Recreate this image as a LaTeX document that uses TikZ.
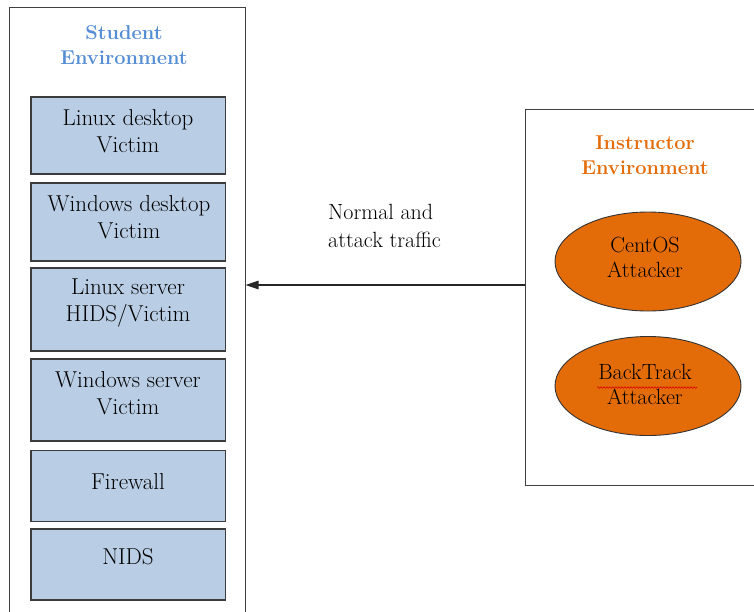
\documentclass[tikz,border=0pt]{standalone}
\usetikzlibrary{arrows.meta,shapes.geometric,decorations.pathmorphing}

\definecolor{boxfill}{HTML}{B9CDE5}
\definecolor{boxline}{HTML}{3C3C3C}
\definecolor{studentblue}{HTML}{558ED5}
\definecolor{instrorange}{HTML}{E46C0A}
\definecolor{attackfill}{HTML}{E36C09}

\begin{document}
\begin{tikzpicture}[x=1pt,y=-1pt,
  envbox/.style={draw=black!75,line width=1pt,fill=white,inner sep=0pt},
  hostbox/.style={draw=boxline,line width=1.2pt,fill=boxfill,inner sep=0pt,
    minimum width=194.5pt},
  hostlabel/.style={font=\fontsize{23}{27}\selectfont,align=center,text=black},
  envtitle/.style={font=\fontsize{20}{25}\selectfont\bfseries,align=center},
  attacker/.style={ellipse,draw=black!80,line width=0.9pt,fill=attackfill,
    minimum width=186pt,minimum height=99pt,inner sep=0pt},
  attackerlabel/.style={font=\fontsize{22}{25}\selectfont,align=center,text=black},
  traffic/.style={-{Triangle[length=13pt,width=8.5pt]},line width=1.2pt,draw=black!85}]

\useasboundingbox (0,0) rectangle (754,611);

% environment frames
\node[envbox,minimum width=235.5pt,minimum height=618pt] (student) at (127.25,316) {};
\node[envbox,minimum width=235pt,minimum height=376pt] (instr) at (643,297) {};

% environment titles
\node[envtitle,text=studentblue] (stitle) at (124,45) {Student\\Environment};
\node[envtitle,text=instrorange] (ititle) at (645,155) {Instructor\\Environment};

% student hosts
\node[hostbox,minimum height=77pt] (b1) at (128.25,135.5) {};
\node[hostbox,minimum height=78pt] (b2) at (128.25,222) {};
\node[hostbox,minimum height=83pt] (b3) at (128.25,309.5) {};
\node[hostbox,minimum height=82pt] (b4) at (128.25,400) {};
\node[hostbox,minimum height=71.5pt] (b5) at (128.25,486) {};
\node[hostbox,minimum height=71pt] (b6) at (128.25,564.5) {};

\node[hostlabel] (l1) at (128,131) {Linux desktop\\Victim};
\node[hostlabel] (l2) at (129,217.5) {Windows desktop\\Victim};
\node[hostlabel] (l3) at (128,303) {Linux server\\HIDS/Victim};
\node[hostlabel] (l4) at (128,393) {Windows server\\Victim};
\node[hostlabel] (l5) at (128,482) {Firewall};
\node[hostlabel] (l6) at (128,556.5) {NIDS};

% instructor attack machines
\node[attacker] (centos) at (648,261.5) {};
\node[attacker] (backtrack) at (648,386) {};
\node[attackerlabel] (centostext) at (645,257) {CentOS\\Attacker};
\node[attackerlabel] (backtracktext) at (645,384.5) {BackTrack\\Attacker};

% spell-check underline beneath "BackTrack"
\coordinate (sq1) at (597,387.5);
\coordinate (sq2) at (697,387.5);
\draw[red!85!black,line width=0.6pt,decorate,
  decoration={snake,amplitude=0.8pt,segment length=3pt}] (sq1) -- (sq2);

% traffic from instructor to student environment
\coordinate (tstart) at ([yshift=12pt]instr.west);
\coordinate (tend) at (tstart -| student.east);
\draw[traffic] (tstart) -- (tend);
\node[font=\fontsize{22}{28}\selectfont,align=left,anchor=west,inner sep=0pt] (tlabel)
  at (328,226) {Normal and\\attack traffic};

\end{tikzpicture}
\end{document}
